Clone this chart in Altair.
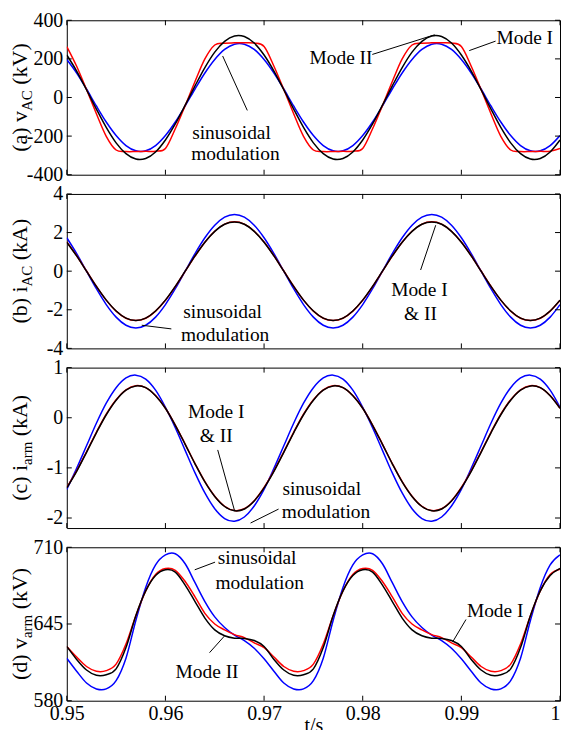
import altair as alt
import pandas as pd

# time grid (s)
T = [round(0.95 + 0.001 * i, 3) for i in range(51)]
X_TICKS = [0.95, 0.96, 0.97, 0.98, 0.99, 1.0]

# ---------------- (a) v_AC (kV) ----------------
A_MODE1 = [264, 162, 41, -84, -201, -272, -280, -280, -279, -278, -264, -162, -42, 83, 200, 272, 281, 283, 284, 282,
           264, 162, 41, -84, -201, -272, -280, -280, -279, -278, -264, -162, -42, 83, 200, 272, 281, 283, 284, 282,
           264, 162, 41, -84, -201, -272, -280, -280, -279, -278, -264]
A_MODE2 = [220, 137, 40, -60, -155, -235, -291, -319, -316, -282, -220, -137, -40, 60, 155, 235, 291, 319, 316, 282,
           220, 137, 40, -60, -155, -235, -291, -319, -316, -282, -220, -137, -40, 60, 155, 235, 291, 319, 316, 282,
           220, 137, 40, -60, -155, -235, -291, -319, -316, -282, -220]
A_SINE = [197, 127, 44, -44, -127, -197, -249, -276, -276, -249, -197, -127, -44, 44, 127, 197, 249, 276, 276, 249,
          197, 127, 44, -44, -127, -197, -249, -276, -276, -249, -197, -127, -44, 44, 127, 197, 249, 276, 276, 249,
          197, 127, 44, -44, -127, -197, -249, -276, -276, -249, -197]
A_YTICKS = [-400, -200, 0, 200, 400]

# ---------------- (b) i_AC (kA) ----------------
B_MODE1 = [1.51, 0.80, 0.01, -0.78, -1.50, -2.07, -2.44, -2.56, -2.44, -2.07, -1.51, -0.80, -0.01, 0.78, 1.50, 2.07, 2.44, 2.56, 2.44, 2.07,
           1.51, 0.80, 0.01, -0.78, -1.50, -2.07, -2.44, -2.56, -2.44, -2.07, -1.51, -0.80, -0.01, 0.78, 1.50, 2.07, 2.44, 2.56, 2.44, 2.07,
           1.51, 0.80, 0.01, -0.78, -1.50, -2.07, -2.44, -2.56, -2.44, -2.07, -1.51]
B_MODE2 = [1.50, 0.79, 0.00, -0.79, -1.50, -2.06, -2.43, -2.55, -2.43, -2.06, -1.50, -0.79, 0.00, 0.79, 1.50, 2.06, 2.43, 2.55, 2.43, 2.06,
           1.50, 0.79, 0.00, -0.79, -1.50, -2.06, -2.43, -2.55, -2.43, -2.06, -1.50, -0.79, 0.00, 0.79, 1.50, 2.06, 2.43, 2.55, 2.43, 2.06,
           1.50, 0.79, 0.00, -0.79, -1.50, -2.06, -2.43, -2.55, -2.43, -2.06, -1.50]
B_SINE = [1.73, 0.91, 0.00, -0.91, -1.73, -2.38, -2.80, -2.94, -2.80, -2.38, -1.73, -0.91, 0.00, 0.91, 1.73, 2.38, 2.80, 2.94, 2.80, 2.38,
          1.73, 0.91, 0.00, -0.91, -1.73, -2.38, -2.80, -2.94, -2.80, -2.38, -1.73, -0.91, 0.00, 0.91, 1.73, 2.38, 2.80, 2.94, 2.80, 2.38,
          1.73, 0.91, 0.00, -0.91, -1.73, -2.38, -2.80, -2.94, -2.80, -2.38, -1.73]
B_YTICKS = [-4, -2, 0, 2, 4]

# ---------------- (c) i_arm (kA) ----------------
C_MODE1 = [-1.39, -1.06, -0.68, -0.29, 0.07, 0.36, 0.555, 0.64, 0.60, 0.445, 0.19, -0.145, -0.525, -0.915, -1.275, -1.565, -1.765, -1.85, -1.815, -1.655,
           -1.39, -1.06, -0.68, -0.29, 0.07, 0.36, 0.555, 0.64, 0.60, 0.445, 0.19, -0.145, -0.525, -0.915, -1.275, -1.565, -1.765, -1.85, -1.815, -1.655,
           -1.39, -1.06, -0.68, -0.29, 0.07, 0.36, 0.555, 0.64, 0.60, 0.445, 0.19]
C_MODE2 = [-1.40, -1.07, -0.69, -0.30, 0.06, 0.35, 0.55, 0.635, 0.60, 0.44, 0.19, -0.15, -0.53, -0.92, -1.28, -1.57, -1.77, -1.855, -1.82, -1.66,
           -1.40, -1.07, -0.69, -0.30, 0.06, 0.35, 0.55, 0.635, 0.60, 0.44, 0.19, -0.15, -0.53, -0.92, -1.28, -1.57, -1.77, -1.855, -1.82, -1.66,
           -1.40, -1.07, -0.69, -0.30, 0.06, 0.35, 0.55, 0.635, 0.60, 0.44, 0.19]
C_SINE = [-1.43, -1.01, -0.56, -0.11, 0.29, 0.60, 0.795, 0.85, 0.77, 0.55, 0.21, -0.20, -0.65, -1.10, -1.50, -1.815, -2.01, -2.065, -1.98, -1.76,
          -1.43, -1.01, -0.56, -0.11, 0.29, 0.60, 0.795, 0.85, 0.77, 0.55, 0.21, -0.20, -0.65, -1.10, -1.50, -1.815, -2.01, -2.065, -1.98, -1.76,
          -1.43, -1.01, -0.56, -0.11, 0.29, 0.60, 0.795, 0.85, 0.77, 0.55, 0.21]
C_YTICKS = [-2, -1, 0, 1]

# ---------------- (d) v_arm (kV) ----------------
D_MODE1 = [626, 617, 609, 605, 605.5, 611, 628, 652, 673, 687, 692, 690.5, 681, 668, 654, 645, 640, 636, 633.5, 629,
           625, 617, 609, 605, 605.5, 611, 628, 652, 673, 687, 692, 690.5, 681, 668, 654, 645, 640, 636, 633.5, 629,
           625, 617, 609, 605, 605.5, 611, 628, 652, 673, 687, 691.5]
D_MODE2 = [626, 615, 606, 601.5, 602, 607, 625, 652, 673, 686, 691, 689, 678, 664, 650, 640, 635, 633, 632.8, 631,
           626, 615, 606, 601.5, 602, 607, 625, 652, 673, 686, 691, 689, 678, 664, 650, 640, 635, 633, 632.8, 631,
           626, 615, 606, 601.5, 602, 607, 625, 652, 673, 686, 692]
D_SINE = [616, 605, 595, 590, 590, 597, 616, 648, 676, 695, 703.5, 704.5, 696, 680, 664, 651, 642, 635.5, 631, 624.5,
          615.5, 605, 595, 590, 590, 597, 616, 648, 676, 695, 703.5, 704.5, 696, 680, 664, 651, 642, 635.5, 631, 624.5,
          615.5, 605, 595, 590, 590, 597, 616, 648, 676, 695, 703.5]
D_YTICKS = [580, 645, 710]

# ---------------- annotations (text, t, value) ----------------
A_TEXTS = [("Mode II", 0.9778, 206), ("Mode I", 0.99643, 309),
           ("sinusoidal", 0.9667, -183), ("modulation", 0.9671, -291)]
A_LEADERS = [(0.98097, 223, 0.9873, 325), (0.99347, 292, 0.9908, 243), (0.9683, -67, 0.9658, 215)]

B_TEXTS = [("sinusoidal", 0.9658, -2.12), ("modulation", 0.96605, -3.32),
           ("Mode I", 0.98575, -0.97), ("& II", 0.98585, -2.22)]
B_LEADERS = [(0.9576, -2.80, 0.9606, -2.99), (0.98587, 0.06, 0.9874, 2.38)]

C_TEXTS = [("Mode I", 0.96515, 0.12), ("& II", 0.96515, -0.36),
           ("sinusoidal", 0.97585, -1.425), ("modulation", 0.97628, -1.88)]
C_LEADERS = [(0.9653, -0.642, 0.967, -1.848), (0.96863, -2.10, 0.97147, -1.822)]

D_TEXTS = [("sinusoidal", 0.9693, 700.7), ("modulation", 0.96955, 679.7),
           ("Mode II", 0.96422, 603.9), ("Mode I", 0.99343, 656.4)]
D_LEADERS = [(0.96297, 690.9, 0.96503, 697.4), (0.96447, 620.7, 0.96597, 634.7), (0.99047, 648.8, 0.98913, 630)]

# y-axis titles: (text, is_subscript)
A_TITLE = [("(a) v", False), ("AC", True), (" (kV)", False)]
B_TITLE = [("(b) i", False), ("AC", True), (" (kA)", False)]
C_TITLE = [("(c) i", False), ("arm", True), (" (kA)", False)]
D_TITLE = [("(d) v", False), ("arm", True), (" (kV)", False)]

# ---------------- styling ----------------
FONT = "Liberation Serif"
BLUE, RED, BLACK = "#0000ff", "#ff0000", "#000000"
W = 495
HEIGHTS = [155, 155, 161, 154]
SPACING = 19.3
TICK = 5
TITLE_SIZE, SUB_SIZE = 22, 15
TITLE_X = -40
CHAR_W = {" ": 250, "(": 333, ")": 333, "a": 444, "b": 500, "c": 444, "d": 500, "v": 500,
          "i": 278, "k": 500, "A": 722, "C": 667, "V": 722, "r": 333, "m": 778}


def twidth(s, size):
    return sum(CHAR_W.get(ch, 500) for ch in s) * size / 1000.0


def make_panel(mode1, mode2, sine, ydom, yticks, H, texts, leaders, title, last):
    if last:
        xaxis = alt.Axis(values=X_TICKS, labelExpr="'' + datum.value", labelFlush=False,
                         labelAlign={"condition": {"test": "datum.value >= 1", "value": "right"},
                                     "value": "center"},
                         labelOverlap=False, title="t/s", titlePadding=-8, grid=False,
                         ticks=False, tickSize=0, domain=False, labelPadding=3)
    else:
        xaxis = None
    X = alt.X("t:Q", scale=alt.Scale(domain=[0.95, 1.0], nice=False, zero=False), axis=xaxis)
    Y = alt.Y("v:Q", scale=alt.Scale(domain=ydom, nice=False, zero=False),
              axis=alt.Axis(values=yticks, labelExpr="'' + datum.value", title=None, grid=False,
                            ticks=False, tickSize=0, domain=False, labelPadding=4,
                            labelOverlap=False, labelFlush=False))
    layers = []
    for vals, color in [(sine, BLUE), (mode1, RED), (mode2, BLACK)]:
        df = pd.DataFrame({"t": T, "v": vals})
        layers.append(alt.Chart(df).mark_line(color=color, strokeWidth=1.5,
                                              interpolate="cardinal", clip=True).encode(x=X, y=Y))
    tdf = pd.DataFrame(texts, columns=["label", "t", "v"])
    layers.append(alt.Chart(tdf).mark_text(font=FONT, fontSize=19.5, color="black",
                                           align="center", baseline="middle").encode(x=X, y=Y, text="label:N"))
    ldf = pd.DataFrame(leaders, columns=["t", "v", "t2", "v2"])
    layers.append(alt.Chart(ldf).mark_rule(color="black", strokeWidth=1).encode(
        x=X, y=Y, x2="t2:Q", y2="v2:Q"))
    # inward ticks on all four sides
    xt = pd.DataFrame({"t": X_TICKS})
    yt = pd.DataFrame({"v": yticks})
    layers.append(alt.Chart(xt).mark_rule(color="black", strokeWidth=1).encode(
        x=X, y=alt.value(0), y2=alt.value(TICK)))
    layers.append(alt.Chart(xt).mark_rule(color="black", strokeWidth=1).encode(
        x=X, y=alt.value(H), y2=alt.value(H - TICK)))
    layers.append(alt.Chart(yt).mark_rule(color="black", strokeWidth=1).encode(
        y=Y, x=alt.value(0), x2=alt.value(TICK)))
    layers.append(alt.Chart(yt).mark_rule(color="black", strokeWidth=1).encode(
        y=Y, x=alt.value(W), x2=alt.value(W - TICK)))
    # rotated y title built from pieces (with subscript)
    widths = [twidth(s, SUB_SIZE if sub else TITLE_SIZE) for s, sub in title]
    total = sum(widths)
    y0 = H / 2 + total / 2
    off = 0.0
    for (s, sub), w in zip(title, widths):
        lead = len(s) - len(s.lstrip(" "))
        shown = s.lstrip(" ")
        layers.append(alt.Chart(pd.DataFrame({"s": [shown]})).mark_text(
            font=FONT, fontSize=SUB_SIZE if sub else TITLE_SIZE, color="black", angle=270,
            align="left", baseline="alphabetic",
            dx=off + twidth(" " * lead, TITLE_SIZE), dy=5 if sub else 0).encode(
            x=alt.value(TITLE_X), y=alt.value(y0), text="s:N"))
        off += w
    return alt.layer(*layers).properties(width=W, height=H)


pa = make_panel(A_MODE1, A_MODE2, A_SINE, [-400, 400], A_YTICKS, HEIGHTS[0], A_TEXTS, A_LEADERS, A_TITLE, False)
pb = make_panel(B_MODE1, B_MODE2, B_SINE, [-4, 4], B_YTICKS, HEIGHTS[1], B_TEXTS, B_LEADERS, B_TITLE, False)
pc = make_panel(C_MODE1, C_MODE2, C_SINE, [-2.2, 1], C_YTICKS, HEIGHTS[2], C_TEXTS, C_LEADERS, C_TITLE, False)
pd_ = make_panel(D_MODE1, D_MODE2, D_SINE, [580, 710], D_YTICKS, HEIGHTS[3], D_TEXTS, D_LEADERS, D_TITLE, True)

chart = alt.vconcat(pa, pb, pc, pd_, spacing=SPACING, bounds="flush").properties(
    padding={"left": 0, "top": 0, "right": 0, "bottom": 0}
).configure_view(stroke="black", strokeWidth=1).configure_axis(
    labelFont=FONT, labelFontSize=20, labelColor="black",
    titleFont=FONT, titleFontSize=20, titleFontWeight="normal", titleColor="black"
)

chart.save("out.html", embed_options={"renderer": "svg", "actions": False})
